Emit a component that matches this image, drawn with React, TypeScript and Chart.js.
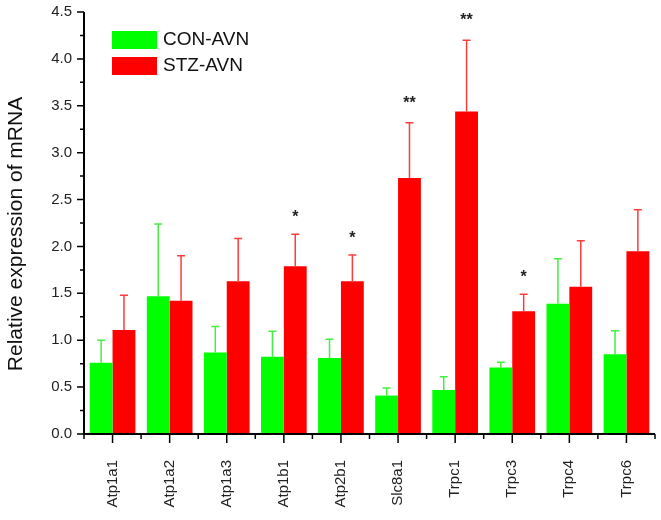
import React, { useEffect, useRef } from "react";
import { Chart, registerables } from "chart.js";

Chart.register(...registerables);

const categories = ["Atp1a1", "Atp1a2", "Atp1a3", "Atp1b1", "Atp2b1", "Slc8a1", "Trpc1", "Trpc3", "Trpc4", "Trpc6"];
const conValues = [0.76, 1.47, 0.87, 0.825, 0.81, 0.41, 0.47, 0.71, 1.39, 0.85];
const conErrors = [0.24, 0.77, 0.275, 0.27, 0.2, 0.08, 0.14, 0.055, 0.48, 0.25];
const stzValues = [1.11, 1.42, 1.63, 1.79, 1.63, 2.73, 3.44, 1.31, 1.57, 1.95];
const stzErrors = [0.37, 0.48, 0.455, 0.34, 0.28, 0.59, 0.76, 0.18, 0.49, 0.44];
const significance = ["", "", "", "*", "*", "**", "**", "*", "", ""];
const seriesNames = ["CON-AVN", "STZ-AVN"];
const yAxisTitle = "Relative expression of mRNA";

const FONT = "'Liberation Sans', Arial, sans-serif";
const GREEN = "#00ff00";
const RED = "#ff0000";
const GREEN_ERR = "#44ee44";
const RED_ERR = "#ff3c3c";

const overlayPlugin = {
  id: "overlay",
  afterDatasetsDraw(chart: any) {
    const ctx = chart.ctx;
    const y = chart.scales.y;
    const errs = [conErrors, stzErrors];
    const errColors = [GREEN_ERR, RED_ERR];
    ctx.save();
    chart.data.datasets.forEach((ds: any, di: number) => {
      const meta = chart.getDatasetMeta(di);
      meta.data.forEach((bar: any, i: number) => {
        const v = ds.data[i];
        const top = y.getPixelForValue(v + errs[di][i]);
        const base = y.getPixelForValue(v);
        ctx.strokeStyle = errColors[di];
        ctx.lineWidth = 1.5;
        ctx.beginPath();
        ctx.moveTo(bar.x, base);
        ctx.lineTo(bar.x, top);
        ctx.moveTo(bar.x - 4, top);
        ctx.lineTo(bar.x + 4, top);
        ctx.stroke();
      });
    });
    const stzMeta = chart.getDatasetMeta(1);
    ctx.fillStyle = "#222";
    ctx.font = `bold 16px ${FONT}`;
    ctx.textAlign = "center";
    ctx.textBaseline = "alphabetic";
    significance.forEach((s, i) => {
      if (!s) return;
      const bar = stzMeta.data[i];
      const top = y.getPixelForValue(stzValues[i] + stzErrors[i]);
      ctx.fillText(s, bar.x, top - (s.length > 1 ? 15 : 12));
    });
    ctx.restore();
  },
  afterDraw(chart: any) {
    const ctx = chart.ctx;
    const x = chart.scales.x;
    const y = chart.scales.y;
    const area = chart.chartArea;
    ctx.save();
    ctx.strokeStyle = "#000";
    ctx.lineWidth = 2;
    ctx.beginPath();
    ctx.moveTo(area.left, area.top);
    ctx.lineTo(area.left, area.bottom);
    ctx.lineTo(area.right, area.bottom);
    ctx.stroke();
    ctx.lineWidth = 1.5;
    ctx.beginPath();
    for (let v = 0; v <= 4.5001; v += 0.25) {
      const py = y.getPixelForValue(v);
      const major = Math.abs(v / 0.5 - Math.round(v / 0.5)) < 1e-6;
      ctx.moveTo(area.left, py);
      ctx.lineTo(area.left - (major ? 7 : 4), py);
    }
    const half = (x.getPixelForValue(1) - x.getPixelForValue(0)) / 2;
    categories.forEach((_, i) => {
      const px = x.getPixelForValue(i);
      ctx.moveTo(px, area.bottom);
      ctx.lineTo(px, area.bottom + 9);
      const bx = px - half;
      ctx.moveTo(bx, area.bottom);
      ctx.lineTo(bx, area.bottom + 5);
      if (i === categories.length - 1) {
        ctx.moveTo(px + half, area.bottom);
        ctx.lineTo(px + half, area.bottom + 5);
      }
    });
    ctx.stroke();
    ctx.fillStyle = "#111";
    ctx.font = `21px ${FONT}`;
    ctx.textAlign = "center";
    ctx.textBaseline = "middle";
    ctx.translate(16, (area.top + area.bottom) / 2 + 11);
    ctx.rotate(-Math.PI / 2);
    ctx.fillText(yAxisTitle, 0, 0);
    ctx.restore();
    ctx.save();
    const colors = [GREEN, RED];
    ctx.font = `19px ${FONT}`;
    ctx.textAlign = "left";
    ctx.textBaseline = "middle";
    seriesNames.forEach((name, i) => {
      const lx = area.left + 28;
      const ly = area.top + 19 + i * 26;
      ctx.fillStyle = colors[i];
      ctx.fillRect(lx, ly, 45, 18);
      ctx.fillStyle = "#111";
      ctx.fillText(name, lx + 51, ly + 9);
    });
    ctx.restore();
  },
};

export default function App() {
  const ref = useRef<HTMLCanvasElement>(null);
  useEffect(() => {
    document.body.style.margin = "0";
    const chart = new Chart(ref.current as HTMLCanvasElement, {
      type: "bar",
      data: {
        labels: categories,
        datasets: [
          { label: seriesNames[0], data: conValues, backgroundColor: GREEN, borderWidth: 0 },
          { label: seriesNames[1], data: stzValues, backgroundColor: RED, borderWidth: 0 },
        ],
      },
      options: {
        animation: false,
        responsive: false,
        devicePixelRatio: 1,
        layout: { padding: { top: 12, right: 6, left: 0, bottom: 0 } },
        datasets: { bar: { categoryPercentage: 0.8, barPercentage: 1.0 } },
        plugins: { legend: { display: false }, tooltip: { enabled: false } },
        scales: {
          x: {
            type: "category",
            offset: true,
            grid: { display: false, drawTicks: false },
            border: { display: false },
            ticks: {
              color: "#222",
              font: { family: FONT, size: 15 },
              minRotation: 90,
              maxRotation: 90,
              padding: 26,
              autoSkip: false,
            },
            afterFit: (s: any) => {
              s.height = 86;
              s.paddingLeft = 0;
              s.paddingRight = 0;
            },
          },
          y: {
            min: 0,
            max: 4.5,
            grid: { display: false, drawTicks: false },
            border: { display: false },
            ticks: {
              stepSize: 0.5,
              color: "#222",
              font: { family: FONT, size: 15 },
              padding: 12,
              callback: (v: any) => Number(v).toFixed(1),
            },
            afterFit: (s: any) => {
              s.width = 84;
              s.paddingTop = 0;
              s.paddingBottom = 0;
            },
          },
        },
      },
      plugins: [overlayPlugin],
    });
    return () => chart.destroy();
  }, []);
  return (
    <div style={{ position: "relative", width: 661, height: 520 }}>
      <canvas ref={ref} width={661} height={520} style={{ display: "block" }} />
    </div>
  );
}
